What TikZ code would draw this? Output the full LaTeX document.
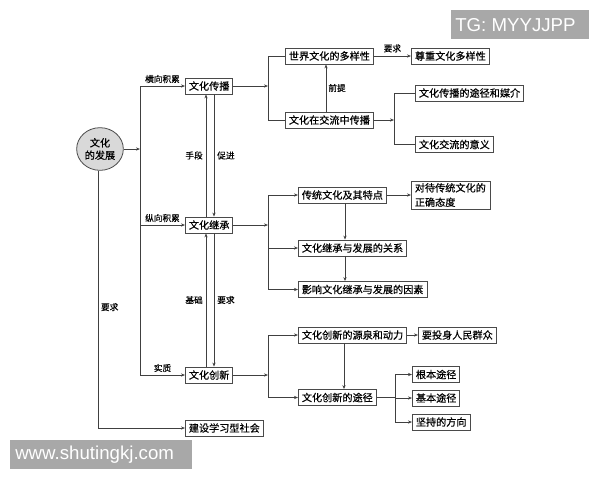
\documentclass[tikz,border=0pt]{standalone}
\usepackage{fontspec}
\newfontfamily\cjk[FakeBold=0.5]{Noto Sans CJK SC}
\newfontfamily\wm{Liberation Sans}
\usetikzlibrary{arrows.meta,shapes.geometric}
\definecolor{linec}{HTML}{404040}
\definecolor{boxc}{HTML}{4A4A4A}
\definecolor{circf}{HTML}{D9D9D9}
\definecolor{wmgray}{HTML}{A8A8A8}
\tikzset{
  box/.style={draw=boxc, line width=0.6pt, inner xsep=2.6pt, inner ysep=0pt,
    minimum height=12pt, anchor=west, font=\cjk\fontsize{7.6pt}{10.8pt}\selectfont},
  lab/.style={font=\cjk\fontsize{6.5pt}{8pt}\selectfont, inner sep=0pt},
  arr/.style={-{Stealth[length=3pt,width=2.4pt]}, line width=0.5pt, draw=linec},
  ln/.style={line width=0.5pt, draw=linec},
  wmtext/.style={anchor=west, text=white, inner sep=0pt, font=\wm\fontsize{14pt}{14pt}\selectfont}
}
\begin{document}
\begin{tikzpicture}[x=0.75pt,y=-0.75pt]
\useasboundingbox (0,0) rectangle (600,480);
% nodes
\node[ellipse, draw=boxc, line width=0.6pt, fill=circf, minimum width=35pt, minimum height=32pt,
  inner sep=0pt, align=center, font=\cjk\fontsize{7.6pt}{9.3pt}\selectfont] (fz) at (100,149) {文化\\的发展};
\node[box] (cb) at (185,86) {文化传播};
\node[box] (ji) at (185,225) {文化继承};
\node[box] (cx) at (185,375) {文化创新};
\node[box] (js) at (185,428) {建设学习型社会};
\node[box] (sj) at (285,56) {世界文化的多样性};
\node[box] (zz) at (411,56) {尊重文化多样性};
\node[box] (jl) at (285,120) {文化在交流中传播};
\node[box] (tj) at (415,93) {文化传播的途径和媒介};
\node[box] (yy) at (415,144.5) {文化交流的意义};
\node[box] (ct) at (298,195) {传统文化及其特点};
\node[box, text width=54pt, align=left, minimum height=21pt] (dd) at (411,195) {对待传统文化的\\正确态度};
\node[box] (gx) at (298,248) {文化继承与发展的关系};
\node[box] (yx) at (298,289.5) {影响文化继承与发展的因素};
\node[box] (yq) at (298,335) {文化创新的源泉和动力};
\node[box] (tq) at (418,335) {要投身人民群众};
\node[box] (tu) at (298,397.5) {文化创新的途径};
\node[box] (gb) at (412,374.5) {根本途径};
\node[box] (jb) at (412,398) {基本途径};
\node[box] (jc) at (412,422) {坚持的方向};
% helper coordinates
\coordinate (t) at (140,0);
\coordinate (lv) at (98,0);
\coordinate (b1) at (268,0);
\coordinate (b2) at (394,0);
\coordinate (b3) at (395,0);
\coordinate (vl) at (206,0);
\coordinate (vr) at (214,0);
\coordinate (p1) at (326,0);
\coordinate (p2) at (345,0);
\coordinate (p3) at (344,0);
% trunk
\draw[arr] (fz.east) -- (t |- fz.east);
\draw[ln] (t |- cb.west) -- (t |- cx.west);
\draw[arr] (t |- cb.west) -- node[lab, above=2pt]{横向积累} (cb.west);
\draw[arr] (t |- ji.west) -- node[lab, above=2pt]{纵向积累} (ji.west);
\draw[arr] (t |- cx.west) -- node[lab, above=2pt]{实质} (cx.west);
\draw[arr] (lv |- fz.south) -- node[lab, right=2pt, pos=0.53]{要求} (lv |- js.west) -- (js.west);
% vertical pairs
\draw[arr] (vl |- ji.north) -- node[lab, left=2.2pt]{手段} (vl |- cb.south);
\draw[arr] (vr |- cb.south) -- node[lab, right=2.2pt]{促进} (vr |- ji.north);
\draw[arr] (vl |- cx.north) -- node[lab, left=2.2pt]{基础} (vl |- ji.south);
\draw[arr] (vr |- ji.south) -- node[lab, right=2.2pt]{要求} (vr |- cx.north);
% top group
\draw[arr] (cb.east) -- (b1 |- cb.east);
\draw[ln] (sj.west) -- (b1 |- sj.west) -- (b1 |- jl.west) -- (jl.west);
\draw[arr] (sj.east) -- node[lab, above=2.5pt]{要求} (zz.west);
\draw[arr] (p1 |- jl.north) -- node[lab, right=1.5pt]{前提} (p1 |- sj.south);
\draw[arr] (jl.east) -- (b2 |- jl.east);
\draw[ln] (tj.west) -- (b2 |- tj.west) -- (b2 |- yy.west) -- (yy.west);
% middle group
\draw[arr] (ji.east) -- (b1 |- ji.east);
\draw[ln] (b1 |- ct.west) -- (b1 |- yx.west);
\draw[arr] (b1 |- ct.west) -- (ct.west);
\draw[arr] (b1 |- gx.west) -- (gx.west);
\draw[arr] (b1 |- yx.west) -- (yx.west);
\draw[arr] (ct.east) -- (dd.west |- ct.east);
\draw[arr] (p2 |- ct.south) -- (p2 |- gx.north);
\draw[arr] (p2 |- gx.south) -- (p2 |- yx.north);
% bottom group
\draw[arr] (cx.east) -- (b1 |- cx.east);
\draw[ln] (b1 |- yq.west) -- (b1 |- tu.west);
\draw[arr] (b1 |- yq.west) -- (yq.west);
\draw[arr] (b1 |- tu.west) -- (tu.west);
\draw[arr] (yq.east) -- (tq.west);
\draw[arr] (p3 |- yq.south) -- (p3 |- tu.north);
\draw[ln] (tu.east) -- (b3 |- tu.east);
\draw[ln] (b3 |- gb.west) -- (b3 |- jc.west);
\draw[arr] (b3 |- gb.west) -- (gb.west);
\draw[arr] (b3 |- jb.west) -- (jb.west);
\draw[arr] (b3 |- jc.west) -- (jc.west);
% watermarks
\fill[wmgray] (451,10) rectangle (589,39.3);
\node[wmtext] (wm1) at (455,24.7) {TG: MYYJJPP};
\fill[wmgray] (10,440) rectangle (191.7,469.3);
\node[wmtext] (wm2) at (15,454.7) {www.shutingkj.com};
\end{tikzpicture}
\end{document}
